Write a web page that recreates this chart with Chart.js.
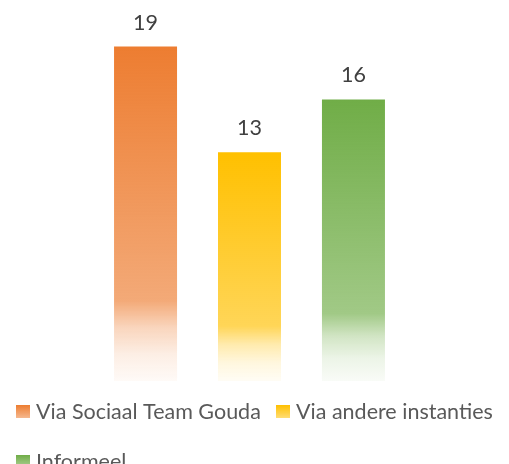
<!DOCTYPE html>
<html>
<head>
<meta charset="utf-8">
<script src="https://cdn.jsdelivr.net/npm/chart.js@4"></script>
<style>
  html, body { margin: 0; padding: 0; background: #fff; }
  #wrap { width: 509px; height: 464px; }
</style>
</head>
<body>
<div id="wrap"><canvas id="kanaal"></canvas></div>
<script>
var ctx = document.getElementById('kanaal').getContext('2d');
/* Hoe binnengekomen */
const names = ['Via Sociaal Team Gouda', 'Via andere instanties', 'Informeel'];
const value = [19, 13, 16];
const colors = [[237, 125, 49], [255, 192, 0], [112, 173, 71]];

function rgba(c, a) {
    return 'rgba(' + c[0] + ',' + c[1] + ',' + c[2] + ',' + a + ')';
}

// verloop van boven (vol) naar onder (bijna wit)
function fade(g, c) {
    g.addColorStop(0, rgba(c, 1));
    g.addColorStop(0.76, rgba(c, 0.66));
    g.addColorStop(0.84, rgba(c, 0.32));
    g.addColorStop(0.92, rgba(c, 0.13));
    g.addColorStop(1, rgba(c, 0.04));
    return g;
}

function barFill(i) {
    return function (context) {
        const chart = context.chart;
        if (!chart.chartArea) return rgba(colors[i], 1);
        const y = chart.scales.y;
        const top = y.getPixelForValue(value[i]);
        const bottom = y.getPixelForValue(0);
        return fade(chart.ctx.createLinearGradient(0, top, 0, bottom), colors[i]);
    };
}

const labelsOnTop = {
    id: 'labelsOnTop',
    afterDatasetsDraw(chart) {
        const c = chart.ctx;
        c.save();
        c.font = '21.5px Lato';
        c.fillStyle = '#404040';
        c.textAlign = 'center';
        c.textBaseline = 'middle';
        chart.data.datasets.forEach(function (ds, i) {
            const bar = chart.getDatasetMeta(i).data[0];
            c.fillText(String(ds.data[0]), bar.x, bar.y - 24);
        });
        c.restore();
    }
};

// legenda zoals in het origineel: twee regels, links uitgelijnd
const legendaOnder = {
    id: 'legendaOnder',
    afterDraw(chart) {
        const c = chart.ctx;
        const spots = [[16, 411], [276, 411], [16, 461]];
        c.save();
        c.font = '21.5px Lato';
        c.textBaseline = 'middle';
        names.forEach(function (n, i) {
            const x = spots[i][0], y = spots[i][1];
            const g = c.createLinearGradient(0, y - 6, 0, y + 7);
            g.addColorStop(0, rgba(colors[i], 1));
            g.addColorStop(1, rgba(colors[i], 0.55));
            c.fillStyle = g;
            c.fillRect(x, y - 6, 14, 13);
            c.fillStyle = '#595959';
            c.fillText(n, x + 20, y + 1);
        });
        c.restore();
    }
};

var myChart = new Chart(ctx, {
    type: 'bar',
    data: {
        labels: [''],
        datasets: names.map(function (n, i) {
            return {
                label: n,
                data: [value[i]],
                backgroundColor: barFill(i),
                borderWidth: 0
            };
        })
    },
    options: {
        responsive: true,
        maintainAspectRatio: false,
        animation: false,
        categoryPercentage: 0.625,
        barPercentage: 0.606,
        layout: { padding: { top: 29, bottom: 83, left: 0, right: 10 } },
        plugins: {
            legend: { display: false },
            tooltip: { enabled: false }
        },
        scales: {
            x: { display: false },
            y: { display: false, min: 0, max: 20 }
        }
    },
    plugins: [labelsOnTop, legendaOnder]
});
</script>
</body>
</html>
